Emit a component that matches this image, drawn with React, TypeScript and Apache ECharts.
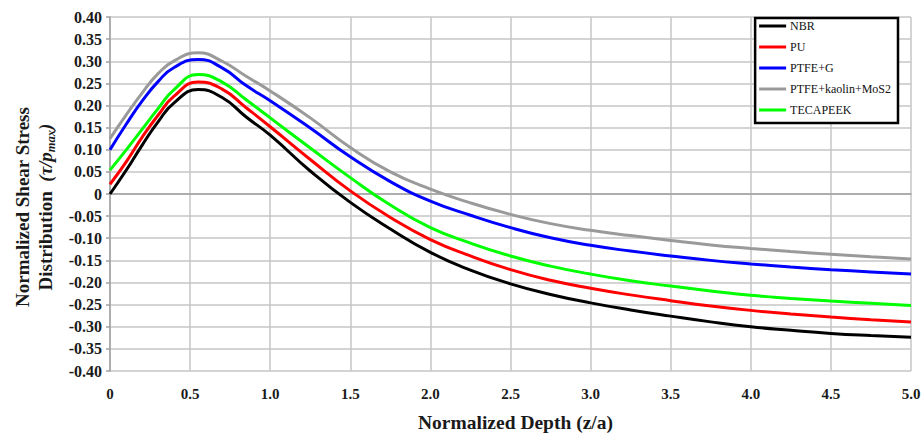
import React, { useEffect, useRef } from "react";
import * as echarts from "echarts";

const depth = [0, 0.1, 0.2, 0.3, 0.4, 0.55, 0.7, 0.85, 1.0, 1.25, 1.5, 1.75, 2.0, 2.25, 2.5, 2.75, 3.0, 3.25, 3.5, 3.75, 4.0, 4.25, 4.5, 4.75, 5.0];

const nbr = [0, 0.053, 0.110, 0.163, 0.206, 0.236, 0.218, 0.174, 0.133, 0.052, -0.019, -0.079, -0.132, -0.172, -0.203, -0.227, -0.246, -0.262, -0.276, -0.289, -0.300, -0.308, -0.315, -0.320, -0.324];
const pu = [0.022, 0.072, 0.128, 0.178, 0.221, 0.253, 0.237, 0.195, 0.152, 0.078, 0.007, -0.053, -0.103, -0.140, -0.171, -0.195, -0.213, -0.228, -0.241, -0.253, -0.263, -0.271, -0.278, -0.284, -0.289];
const ptfeG = [0.100, 0.157, 0.210, 0.254, 0.286, 0.304, 0.285, 0.245, 0.211, 0.149, 0.084, 0.028, -0.016, -0.048, -0.076, -0.099, -0.116, -0.129, -0.140, -0.150, -0.158, -0.165, -0.171, -0.176, -0.181];
const ptfeKaolin = [0.125, 0.178, 0.228, 0.272, 0.301, 0.319, 0.300, 0.266, 0.233, 0.172, 0.105, 0.050, 0.011, -0.020, -0.046, -0.067, -0.082, -0.094, -0.105, -0.115, -0.123, -0.130, -0.136, -0.142, -0.147];
const tecapeek = [0.054, 0.099, 0.146, 0.193, 0.236, 0.270, 0.253, 0.213, 0.172, 0.104, 0.037, -0.025, -0.076, -0.111, -0.140, -0.163, -0.181, -0.196, -0.208, -0.219, -0.229, -0.236, -0.242, -0.247, -0.252];

const seriesNames = ["NBR", "PU", "PTFE+G", "PTFE+kaolin+MoS2", "TECAPEEK"];
const seriesValues = [nbr, pu, ptfeG, ptfeKaolin, tecapeek];
const seriesColors = ["#000000", "#ff0000", "#0000ff", "#9a9a9a", "#00ff00"];

const xTitle = "Normalized Depth (z/a)";
const yTitleLine1 = "Normalized Shear Stress";
const yTitleLine2 = "Distribution";

const SERIF = "Liberation Serif";

export default function App() {
  const ref = useRef<HTMLDivElement>(null);
  useEffect(() => {
    if (!ref.current) return;
    const chart = echarts.init(ref.current, undefined, { renderer: "svg" });
    const gridColor = "#c6c6c6";
    chart.setOption({
      animation: false,
      backgroundColor: "#ffffff",
      textStyle: { fontFamily: SERIF },
      grid: { left: 110, right: 13, top: 17, bottom: 65, containLabel: false },
      legend: {
        right: 26,
        top: 18,
        orient: "vertical",
        backgroundColor: "#ffffff",
        borderColor: "#000000",
        borderWidth: 2.5,
        borderRadius: 0,
        padding: [1, 7, 6, 4],
        icon: "rect",
        itemWidth: 27,
        itemHeight: 3,
        itemGap: 7,
        data: seriesNames,
        textStyle: { fontFamily: SERIF, fontSize: 12, lineHeight: 14, color: "#111111", padding: [0, 0, 0, -1] },
      },
      xAxis: {
        type: "value",
        min: 0,
        max: 5,
        interval: 0.5,
        name: xTitle,
        nameLocation: "middle",
        nameGap: 41,
        nameTextStyle: { fontFamily: SERIF, fontSize: 19.5, fontWeight: "bold", color: "#1a1a1a", padding: [0, 0, 0, 10] },
        axisLine: { show: true, lineStyle: { color: "#a0a0a0", width: 1.5 } },
        axisTick: { show: false },
        axisLabel: {
          margin: 15,
          fontFamily: SERIF,
          fontSize: 15,
          fontWeight: "bold",
          color: "#1a1a1a",
          formatter: (v: number) => (Math.abs(v) < 1e-9 ? "0" : v.toFixed(1)),
        },
        splitLine: { show: true, lineStyle: { color: gridColor, width: 1.5 } },
      },
      yAxis: {
        type: "value",
        min: -0.4,
        max: 0.4,
        interval: 0.05,
        axisLine: { show: true, onZero: false, lineStyle: { color: "#a0a0a0", width: 1.5 } },
        axisTick: { show: true, length: 4, lineStyle: { color: "#a0a0a0", width: 1.5 } },
        axisLabel: {
          margin: 8,
          fontFamily: SERIF,
          fontSize: 16,
          fontWeight: "bold",
          color: "#1a1a1a",
          formatter: (v: number) => (Math.abs(v) < 1e-9 ? "0" : v.toFixed(2)),
        },
        splitLine: { show: true, lineStyle: { color: gridColor, width: 1.5 } },
      },
      graphic: [
        {
          type: "text",
          x: 34,
          y: 207,
          rotation: Math.PI / 2,
          style: {
            text: yTitleLine1 + "\n" + yTitleLine2 + "  {i|(τ/p}{s|max}{i|)}",
            fontFamily: SERIF,
            fontSize: 19,
            fontWeight: "bold",
            fill: "#1a1a1a",
            align: "center",
            verticalAlign: "middle",
            lineHeight: 23,
            rich: {
              i: { fontFamily: SERIF, fontSize: 19, fontStyle: "italic", fontWeight: "bold", fill: "#1a1a1a", lineHeight: 23 },
              s: { fontFamily: SERIF, fontSize: 12.5, fontStyle: "italic", fontWeight: "bold", fill: "#1a1a1a", lineHeight: 10, verticalAlign: "bottom" },
            },
          },
        },
      ],
      series: seriesNames.map((name, k) => ({
        name,
        type: "line",
        smooth: 0.5,
        symbol: "none",
        showSymbol: false,
        lineStyle: { color: seriesColors[k], width: 3 },
        itemStyle: { color: seriesColors[k] },
        data: depth.map((d, i) => [d, seriesValues[k][i]]),
      })),
    });
    return () => chart.dispose();
  }, []);
  return <div ref={ref} style={{ position: "fixed", left: 0, top: 0, width: 924, height: 437 }} />;
}
